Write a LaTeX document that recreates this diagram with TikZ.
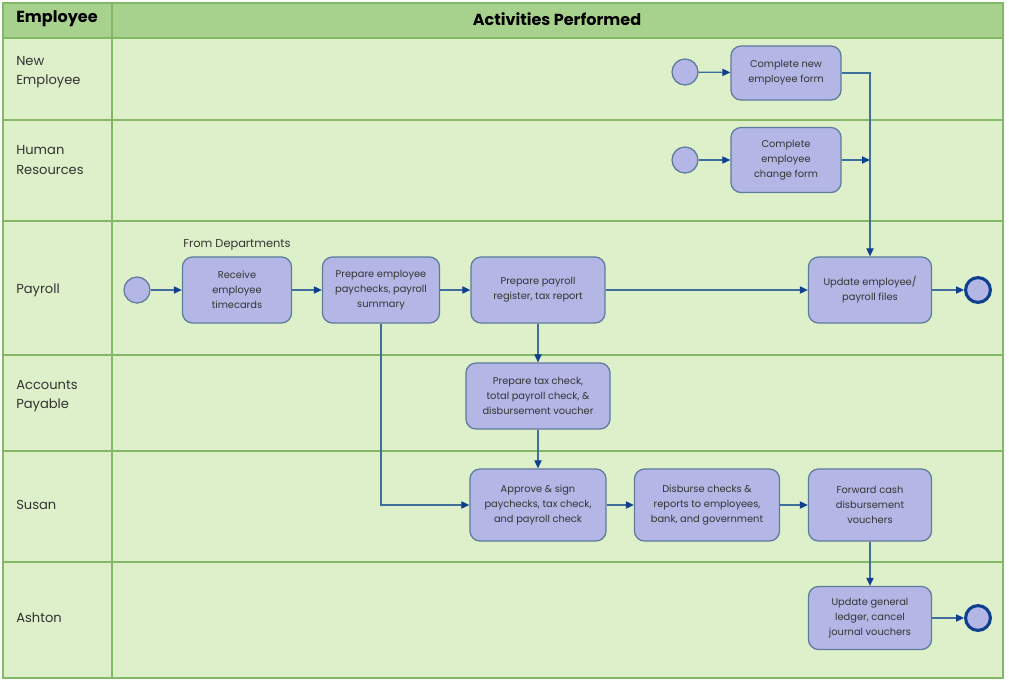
\documentclass[tikz,border=0pt]{standalone}
\usepackage{fontspec}
\setmainfont{Poppins}
\usepackage{tikz}
\usetikzlibrary{
    positioning,
    arrows.meta,
    calc,
}
\definecolor{laneGreen}{HTML}{DDF0C9}
\definecolor{headGreen}{HTML}{A7D28E}
\definecolor{gridGreen}{HTML}{82B866}
\definecolor{taskFill}{HTML}{B4B7E6}
\definecolor{taskLine}{HTML}{5E7B9B}
\definecolor{flowLine}{HTML}{3F6E9E}
\definecolor{flowTip}{HTML}{0F3F8F}
\definecolor{inkGrey}{HTML}{333333}
\tikzset{
    % Lane styles
    grid/.style={draw=gridGreen, line width=1pt},
    lane label/.style={anchor=west, align=left, inner sep=0pt, font=\fontsize{9.3}{14}\selectfont, text=inkGrey},
    head label/.style={font=\bfseries\fontsize{11.4}{13}\selectfont, text=black},
    % Node styles
    task/.style={rectangle, draw=taskLine, line width=0.9pt, rounded corners=0.25cm,
                 fill=taskFill, align=center, inner sep=1pt, text=inkGrey,
                 font=\fontsize{7}{10.8}\selectfont},
    start event/.style={circle, draw=taskLine, line width=0.9pt, fill=taskFill,
                        minimum size=0.65cm, inner sep=0pt},
    end event/.style={circle, draw=flowTip, line width=2.2pt, fill=taskFill,
                      minimum size=0.62cm, inner sep=0pt},
    % Arrow styles
    flow/.style={-{Triangle[length=2mm, width=1.8mm, color=flowTip]}, draw=flowLine, line width=0.9pt},
}

\begin{document}
\begin{tikzpicture}[x=0.025cm, y=-0.025cm]
    \useasboundingbox (0,0) rectangle (1009,685);

    % Swimlanes
    \fill[laneGreen] (3,38) rectangle (1003,678);
    \fill[headGreen] (3,3) rectangle (1003,38);
    \foreach \y in {38,120,221,355,451,562} {
        \draw[grid] (3,\y) -- (1003,\y);
    }
    \draw[grid] (3,3) rectangle (1003,678);
    \draw[grid] (112,3) -- (112,678);

    \node[head label, anchor=west, inner sep=0pt] (hEmp) at (16,19) {Employee};
    \node[head label] (hAct) at (557,19) {Activities Performed};
    \foreach \y/\n/\t in {72/new/{New\\Employee}, 160/hr/{Human\\Resources}, 290/pay/Payroll,
                          396/ap/{Accounts\\Payable}, 505/susan/Susan, 618/ashton/Ashton} {
        \node[lane label] (lane-\n) at (16,\y) {\t};
    }

    % New employee / HR
    \node[start event] (s1) at (685,72) {};
    \node[task, minimum width=2.75cm, minimum height=1.35cm] (newForm) at (786,73) {Complete new\\employee form};
    \node[start event] (s2) at (685,160) {};
    \node[task, minimum width=2.75cm, minimum height=1.625cm] (chgForm) at (786,160) {Complete\\employee\\change form};

    % Payroll
    \node[start event] (s3) at (137,290) {};
    \node[task, minimum width=2.725cm, minimum height=1.65cm] (receive) at (237,290) {Receive\\employee\\timecards};
    \node[font=\fontsize{8.1}{9}\selectfont, text=inkGrey] (fromDep) at (237,245) {From Departments};
    \node[task, minimum width=2.925cm, minimum height=1.65cm] (paychk) at (381,290) {Prepare employee\\paychecks, payroll\\summary};
    \node[task, minimum width=3.35cm, minimum height=1.65cm] (register) at (538,290) {Prepare payroll\\register, tax report};
    \node[task, minimum width=3.075cm, minimum height=1.65cm] (updFiles) at (870,290) {Update employee/\\payroll files};
    \node[end event] (e1) at (978,290) {};

    % Accounts payable
    \node[task, minimum width=3.6cm, minimum height=1.65cm] (taxChk) at (538,396) {Prepare tax check,\\total payroll check, \&\\disbursement voucher};

    % Susan
    \node[task, minimum width=3.4cm, minimum height=1.8cm] (approve) at (538,505) {Approve \& sign\\paychecks, tax check,\\and payroll check};
    \node[task, minimum width=3.625cm, minimum height=1.8cm] (disburse) at (707,505) {Disburse checks \&\\reports to employees,\\bank, and government};
    \node[task, minimum width=3.075cm, minimum height=1.8cm] (fwd) at (870,505) {Forward cash\\disbursement\\vouchers};

    % Ashton
    \node[task, minimum width=3.075cm, minimum height=1.575cm] (ledger) at (870,618) {Update general\\ledger, cancel\\journal vouchers};
    \node[end event] (e2) at (978,618) {};

    % Flows
    \coordinate (join) at (updFiles.north |- chgForm.east);
    \draw[flow] (s1) -- (newForm);
    \draw[flow] (s2) -- (chgForm);
    \draw[flow] (chgForm.east) -- (join);
    \draw[flow] (newForm.east) -| (updFiles.north);
    \draw[flow] (s3) -- (receive);
    \draw[flow] (receive) -- (paychk);
    \draw[flow] (paychk) -- (register);
    \draw[flow] (register) -- (updFiles);
    \draw[flow] (updFiles) -- (e1);
    \draw[flow] (register) -- (taxChk);
    \draw[flow] (taxChk) -- (approve);
    \draw[flow] (paychk.south) |- (approve.west);
    \draw[flow] (approve) -- (disburse);
    \draw[flow] (disburse) -- (fwd);
    \draw[flow] (fwd) -- (ledger);
    \draw[flow] (ledger) -- (e2);
\end{tikzpicture}
\end{document}
